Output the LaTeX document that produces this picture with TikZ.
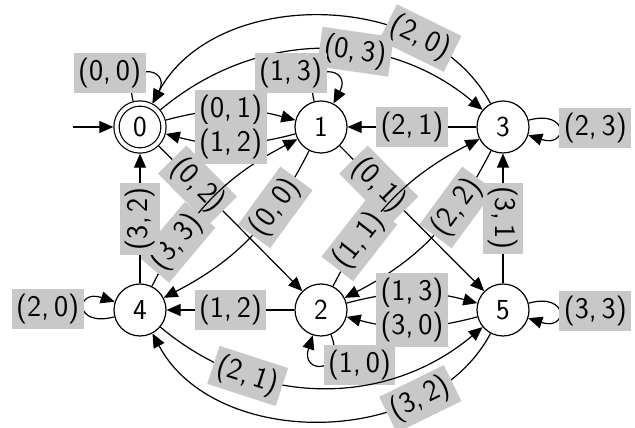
\documentclass[tikz,border=0pt]{standalone}
\usetikzlibrary{arrows.meta}
\definecolor{lblgray}{RGB}{200,200,200}
\begin{document}
\begin{tikzpicture}[x=1pt,y=1pt,line width=1.2pt,
  >={Triangle[length=14pt,width=12pt]},
  txt/.style={font=\sffamily\fontsize{29}{32}\selectfont},
  state/.style={txt,circle,draw,minimum size=52pt,inner sep=0pt,fill=white},
  accstate/.style={state,double,double distance=4pt,minimum size=47pt,outer sep=3.2pt},
  lbl/.style={font=\sffamily\fontsize{30}{33}\selectfont,fill=lblgray,inner xsep=4.5pt,inner ysep=5pt},
  selfloop/.style={loop,looseness=1,min distance=42pt}]
\useasboundingbox (0,0) rectangle (635,428);
\node[accstate] (q0) at (140,301) {0};
\node[state] (q1) at (321,301) {1};
\node[state] (q3) at (503,301) {3};
\node[state] (q4) at (140,118) {4};
\node[state] (q2) at (321,118) {2};
\node[state] (q5) at (503,118) {5};
\coordinate (init) at (73,301);

\draw[->] (init) -- (q0);
% top arcs
\draw[->] (q0) to[out=40,in=140] node[lbl,pos=0.6,sloped] {(0,\,3)} (q3);
\draw[->] (q3) to[out=118,in=62] node[lbl,pos=0.25,sloped] {(2,\,0)} (q0);
% self loops
\draw[->] (q0) to[selfloop,out=105,in=62] node[lbl,left] {(0,\,0)} (q0);
\draw[->] (q1) to[selfloop,out=105,in=62] node[lbl,left] {(1,\,3)} (q1);
\draw[->] (q3) to[selfloop,out=15,in=-18] node[lbl,right] {(2,\,3)} (q3);
\draw[->] (q5) to[selfloop,out=15,in=-18] node[lbl,right] {(3,\,3)} (q5);
\draw[->] (q4) to[selfloop,out=195,in=162] node[lbl,left] {(2,\,0)} (q4);
\draw[->] (q2) to[selfloop,out=-68,in=-108] node[lbl,right] {(1,\,0)} (q2);
% diagonal edges
\draw[->] (q3) to[bend left=18] node[lbl,pos=0.3,sloped] {(2,\,2)} (q2);
\draw[->] (q1) to[bend left=18] node[lbl,pos=0.3,sloped] {(0,\,0)} (q4);
\draw[->] (q1) -- node[lbl,pos=0.27,sloped] {(0,\,1)} (q5);
\draw[->] (q2) to[bend left=18] node[lbl,pos=0.235,rotate=52] {(1,\,1)} (q3);
\draw[->] (q0) -- node[lbl,pos=0.27,sloped] {(0,\,2)} (q2);
\draw[->] (q4) to[bend left=18] node[lbl,pos=0.225,rotate=50] {(3,\,3)} (q1);
% horizontal and vertical edges
\draw[->] (q0) to[bend left=15] node[lbl] {(0,\,1)} (q1);
\draw[->] (q1) to[bend left=15] node[lbl] {(1,\,2)} (q0);
\draw[->] (q3) -- node[lbl] {(2,\,1)} (q1);
\draw[->] (q2) -- node[lbl] {(1,\,2)} (q4);
\draw[->] (q2) to[bend left=15] node[lbl] {(1,\,3)} (q5);
\draw[->] (q5) to[bend left=15] node[lbl] {(3,\,0)} (q2);
\draw[->] (q4) -- node[lbl,rotate=90] {(3,\,2)} (q0);
\draw[->] (q5) -- node[lbl,rotate=-90] {(3,\,1)} (q3);
% bottom arcs
\draw[->] (q4) to[out=-40,in=-140] node[lbl,pos=0.28,sloped] {(2,\,1)} (q5);
\draw[->] (q5) to[out=-118,in=-62] node[lbl,pos=0.25,sloped] {(3,\,2)} (q4);
\end{tikzpicture}
\end{document}
